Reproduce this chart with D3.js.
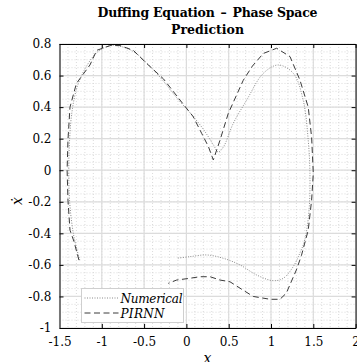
<!DOCTYPE html>
<html>
<head>
<meta charset="utf-8">
<script src="https://cdn.jsdelivr.net/npm/d3@7"></script>
<style>
  body { margin: 0; background: #fff; }
  svg { display: block; }
</style>
</head>
<body>
<svg width="357" height="362"></svg>
<script>
(function() {
  'use strict';

  // Numerical solution (x, xdot)
  const numX = [-1.26, -1.33, -1.38, -1.39, -1.38, -1.35, -1.29, -1.18, -1.05, -0.9, -0.78, -0.62, -0.46, -0.28, -0.1, 0.05, 0.2, 0.32, 0.377, 0.44, 0.554, 0.713, 0.909, 1.086, 1.264, 1.38, 1.44, 1.46, 1.45, 1.40, 1.34, 1.264, 1.145, 1.027, 0.83, 0.633, 0.436, 0.24, 0.04, -0.115];
  const numV = [-0.57, -0.42, -0.2, 0, 0.2, 0.38, 0.53, 0.66, 0.75, 0.79, 0.785, 0.75, 0.675, 0.57, 0.45, 0.36, 0.26, 0.16, 0.115, 0.15, 0.297, 0.445, 0.614, 0.667, 0.614, 0.445, 0.19, -0.02, -0.25, -0.44, -0.527, -0.61, -0.685, -0.70, -0.664, -0.60, -0.558, -0.537, -0.548, -0.558];

  // PIRNN prediction (x, xdot)
  const pirX = [-1.27, -1.33, -1.376, -1.40, -1.41, -1.40, -1.376, -1.30, -1.14, -1.06, -0.90, -0.785, -0.628, -0.47, -0.273, -0.076, 0.08, 0.18, 0.26, 0.318, 0.397, 0.495, 0.672, 0.78, 0.909, 1.067, 1.225, 1.343, 1.44, 1.48, 1.50, 1.48, 1.44, 1.36, 1.30, 1.18, 1.106, 0.988, 0.79, 0.67, 0.515, 0.397, 0.28, 0.16, 0.04, -0.115, -0.214];
  const pirV = [-0.57, -0.45, -0.38, -0.19, 0, 0.19, 0.40, 0.55, 0.667, 0.76, 0.79, 0.79, 0.76, 0.677, 0.58, 0.445, 0.34, 0.234, 0.15, 0.065, 0.19, 0.36, 0.57, 0.66, 0.74, 0.773, 0.72, 0.57, 0.40, 0.21, -0.02, -0.19, -0.38, -0.54, -0.632, -0.78, -0.818, -0.818, -0.80, -0.76, -0.707, -0.696, -0.675, -0.675, -0.685, -0.696, -0.717];

  const xTicks = [-1.5, -1, -0.5, 0, 0.5, 1, 1.5, 2];
  const yTicks = [-1, -0.8, -0.6, -0.4, -0.2, 0, 0.2, 0.4, 0.6, 0.8];
  const legendLabels = ['Numerical', 'PIRNN'];

  const serif = 'DejaVu Serif';
  const margin = {top: 44, right: 1.4, bottom: 34, left: 59.5};
  const svg = d3.select('svg');
  const width = +svg.attr('width') - margin.left - margin.right;
  const height = +svg.attr('height') - margin.top - margin.bottom;

  const g = svg.append('g')
      .attr('transform', 'translate(' + margin.left + ',' + margin.top + ')');

  const x = d3.scaleLinear().domain([-1.5, 2]).range([0, width]);
  const y = d3.scaleLinear().domain([-1, 0.8]).range([height, 0]);

  // minor grid
  g.append('g')
      .selectAll('line')
      .data(d3.range(-1.5, 2.001, 0.1))
      .join('line')
      .attr('x1', (d) => x(d)).attr('x2', (d) => x(d))
      .attr('y1', 0).attr('y2', height)
      .attr('stroke', '#d2d2d2')
      .attr('stroke-width', 0.8)
      .attr('stroke-dasharray', '1,2');
  g.append('g')
      .selectAll('line')
      .data(d3.range(-1, 0.801, 0.05))
      .join('line')
      .attr('x1', 0).attr('x2', width)
      .attr('y1', (d) => y(d)).attr('y2', (d) => y(d))
      .attr('stroke', '#d2d2d2')
      .attr('stroke-width', 0.8)
      .attr('stroke-dasharray', '1,2');

  // major grid
  g.append('g')
      .selectAll('line')
      .data(xTicks)
      .join('line')
      .attr('x1', (d) => x(d)).attr('x2', (d) => x(d))
      .attr('y1', 0).attr('y2', height)
      .attr('stroke', '#dcdcdc')
      .attr('stroke-width', 1.2);
  g.append('g')
      .selectAll('line')
      .data(yTicks)
      .join('line')
      .attr('x1', 0).attr('x2', width)
      .attr('y1', (d) => y(d)).attr('y2', (d) => y(d))
      .attr('stroke', '#dcdcdc')
      .attr('stroke-width', 1.2);

  const numData = numX.map((d, i) => [d, numV[i]]);
  const pirData = pirX.map((d, i) => [d, pirV[i]]);

  g.append('path')
      .datum(numData)
      .attr('fill', 'none')
      .attr('stroke', '#8a8a8a')
      .attr('stroke-width', 1)
      .attr('stroke-dasharray', '1,1.5')
      .attr('d', d3.line()
          .x((d) => x(d[0]))
          .y((d) => y(d[1]))
          .curve(d3.curveCatmullRom));

  g.append('path')
      .datum(pirData)
      .attr('fill', 'none')
      .attr('stroke', '#3a3a3a')
      .attr('stroke-width', 1)
      .attr('stroke-dasharray', '6,3.5')
      .attr('d', d3.line()
          .x((d) => x(d[0]))
          .y((d) => y(d[1])));

  // axes box with inward ticks
  const fmt = (d) => String(d);
  const axB = g.append('g')
      .attr('transform', 'translate(0,' + height + ')')
      .call(d3.axisBottom(x).tickValues(xTicks).tickSizeInner(-4).tickSizeOuter(0).tickPadding(9).tickFormat(fmt));
  const axT = g.append('g')
      .call(d3.axisTop(x).tickValues(xTicks).tickSizeInner(-4).tickSizeOuter(0).tickFormat(''));
  const axL = g.append('g')
      .call(d3.axisLeft(y).tickValues(yTicks).tickSizeInner(-4).tickSizeOuter(0).tickPadding(8).tickFormat(fmt));
  const axR = g.append('g')
      .attr('transform', 'translate(' + width + ',0)')
      .call(d3.axisRight(y).tickValues(yTicks).tickSizeInner(-4).tickSizeOuter(0).tickFormat(''));

  [axB, axT, axL, axR].forEach((a) => {
    a.attr('font-family', serif).attr('font-size', 12);
    a.selectAll('path, line').attr('stroke', '#000').attr('stroke-width', 1);
    a.selectAll('text').attr('fill', '#000');
  });
  axL.select('path').attr('stroke', '#777').attr('stroke-width', 2);

  // legend
  const lg = g.append('g')
      .attr('transform', 'translate(' + (81.5 - margin.left) + ',' + (288.5 - margin.top) + ')');
  lg.append('rect')
      .attr('width', 102).attr('height', 34)
      .attr('fill', '#fff')
      .attr('stroke', '#cfcfcf')
      .attr('stroke-width', 1);
  const styles = [['#8a8a8a', '1,1.5'], ['#3a3a3a', '6,3.5']];
  legendLabels.forEach((lab, i) => {
    const yy = 9.5 + i * 15;
    lg.append('line')
        .attr('x1', 3).attr('x2', 37)
        .attr('y1', yy).attr('y2', yy)
        .attr('stroke', styles[i][0])
        .attr('stroke-dasharray', styles[i][1]);
    lg.append('text')
        .attr('x', 39).attr('y', yy + 4.5)
        .attr('font-family', serif)
        .attr('font-style', 'italic')
        .attr('font-size', 12)
        .attr('textLength', i === 0 ? 62 : 44)
        .text(lab);
  });

  // title and axis labels
  const cx = margin.left + width / 2;
  svg.append('text')
      .attr('x', cx).attr('y', 17)
      .attr('text-anchor', 'middle')
      .attr('font-family', serif)
      .attr('font-weight', 'bold')
      .attr('font-size', 12.5)
      .attr('textLength', 220)
      .text('Duffing Equation\u2002\u2013\u2002Phase Space');
  svg.append('text')
      .attr('x', cx).attr('y', 34)
      .attr('text-anchor', 'middle')
      .attr('font-family', serif)
      .attr('font-weight', 'bold')
      .attr('font-size', 12.5)
      .text('Prediction');
  svg.append('text')
      .attr('x', cx).attr('y', 363)
      .attr('text-anchor', 'middle')
      .attr('font-family', serif)
      .attr('font-style', 'italic')
      .attr('font-size', 14)
      .text('x');
  svg.append('text')
      .attr('transform', 'translate(22,' + (margin.top + height / 2 + 15) + ') rotate(-90)')
      .attr('text-anchor', 'middle')
      .attr('font-family', serif)
      .attr('font-style', 'italic')
      .attr('font-size', 14)
      .text('\u1E8B');
})();
</script>
</body>
</html>
